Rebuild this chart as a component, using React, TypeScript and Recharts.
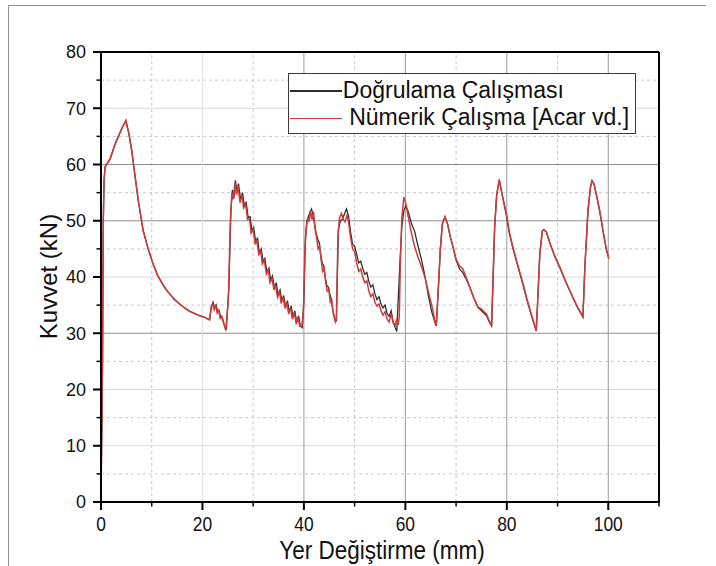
import {
  LineChart,
  Line,
  XAxis,
  YAxis,
  Legend,
  ReferenceLine,
  Label
} from 'recharts';

// [yer değiştirme (mm), kuvvet (kN)]
const ilkTepe: [number, number][] = [
  [0, 0], [0.3, 25], [0.45, 50], [0.6, 57], [0.8, 59.6], [1.8, 61.0], [2.8, 63.7],
  [4.1, 66.4], [4.9, 67.8], [5.5, 65.5], [6.05, 62.5], [6.7, 58.0], [7.35, 53.6],
  [8.3, 48.3], [9.3, 45.0], [10.2, 42.5], [11.2, 40.2], [12.5, 38.2], [13.5, 37.0],
  [14.5, 36.0], [15.5, 35.2], [16.5, 34.5], [17.5, 33.9], [18.5, 33.5], [19.5, 33.1],
  [20.5, 32.8], [21.4, 32.4]
];

const dogrulamaDevam: [number, number][] = [
  [21.8, 34.8], [22.1, 35.5], [22.4, 34.4], [22.7, 35.0], [23.0, 33.8], [23.3, 34.0],
  [23.6, 32.8], [23.9, 32.9], [24.2, 31.8], [24.7, 30.6],
  [25.2, 38.0], [25.6, 51.5], [25.9, 55.5], [26.2, 54.0], [26.5, 57.2], [26.8, 55.0],
  [27.1, 56.6], [27.5, 53.8], [27.9, 55.0], [28.25, 52.6], [28.6, 53.4], [29.0, 50.6],
  [29.4, 50.7], [29.75, 48.2], [30.1, 48.8], [30.5, 46.2], [30.85, 47.0], [31.2, 44.3],
  [31.6, 45.0], [31.95, 42.7], [32.3, 43.3], [32.7, 40.9], [33.1, 41.6], [33.45, 39.4],
  [33.8, 40.2], [34.2, 38.0], [34.55, 39.0], [34.9, 36.8], [35.3, 37.7], [35.65, 35.7],
  [36.0, 36.7], [36.4, 34.7], [36.75, 35.8], [37.1, 33.8], [37.5, 34.9], [37.85, 32.8],
  [38.2, 34.0], [38.6, 31.9], [38.95, 33.1], [39.3, 31.3], [39.7, 31.0],
  [40.0, 36.0], [40.3, 47.0], [40.6, 50.0], [40.9, 50.8], [41.2, 51.5], [41.5, 52.1],
  [41.8, 51.0], [42.1, 49.5], [42.4, 47.8], [42.7, 46.8], [43.0, 46.2], [43.3, 44.0],
  [43.6, 42.5], [43.9, 42.0], [44.2, 40.0], [44.5, 38.5], [44.8, 38.2], [45.1, 37.0],
  [45.4, 36.0], [45.7, 34.0], [46.2, 32.2],
  [46.4, 32.2], [46.8, 48.5], [47.2, 50.0], [47.6, 50.3], [48.0, 51.2], [48.4, 52.1],
  [48.8, 50.8], [49.2, 48.0], [49.6, 45.8], [50.0, 45.5], [50.4, 44.0], [50.8, 42.5],
  [51.2, 42.8], [51.6, 41.5], [52.0, 40.5], [52.4, 40.8], [52.8, 39.2], [53.2, 38.2],
  [53.6, 38.6], [54.0, 37.0], [54.4, 36.0], [54.8, 36.5], [55.2, 35.2], [55.6, 34.5],
  [56.0, 35.0], [56.4, 33.5], [56.8, 33.0], [57.2, 34.0], [57.6, 32.0], [58.0, 31.0],
  [58.3, 30.3],
  [58.9, 42.0], [59.3, 49.0], [59.7, 51.8], [60.1, 52.7], [60.6, 51.5], [61.2, 49.5],
  [61.8, 48.2], [62.5, 45.5], [63.2, 43.0], [63.9, 40.0], [64.5, 36.8], [65.2, 33.8],
  [65.8, 32.0], [66.1, 31.3],
  [66.5, 38.0], [66.9, 45.0], [67.3, 49.5], [67.8, 50.7], [68.3, 49.5], [68.9, 47.0],
  [69.4, 45.3], [70.0, 43.0], [70.7, 41.4], [71.3, 40.8], [72.0, 39.6], [72.7, 38.2],
  [73.5, 36.2], [74.3, 34.6], [75.0, 34.0], [76.0, 33.1], [76.5, 32.1], [77.0, 31.3],
  [77.3, 40.0], [77.6, 48.9], [78.0, 54.5], [78.5, 57.3], [79.0, 55.0], [79.9, 51.0],
  [80.5, 47.8], [81.2, 45.1], [82.2, 41.8], [83.2, 38.6], [84.0, 35.8], [84.9, 33.0],
  [85.8, 30.4],
  [86.1, 36.0], [86.5, 44.1], [87.0, 48.2], [87.3, 48.4], [87.8, 48.0], [88.5, 46.0],
  [89.4, 43.8], [90.4, 41.8], [91.6, 39.2], [93.0, 36.4], [94.0, 34.5], [95.0, 32.9],
  [95.4, 42.0], [96.0, 51.8], [96.5, 56.0], [96.8, 57.1], [97.2, 56.5], [97.8, 54.0],
  [98.3, 51.8], [99.0, 48.0], [99.6, 45.0], [100.1, 43.3]
];

const numerikDevam: [number, number][] = [
  [21.7, 34.6], [22.0, 35.3], [22.3, 34.2], [22.6, 35.1], [22.9, 33.6], [23.2, 34.1],
  [23.5, 32.6], [23.8, 33.0], [24.1, 32.0], [24.6, 30.5],
  [25.1, 36.0], [25.5, 50.0], [25.8, 55.0], [26.1, 53.8], [26.4, 56.8], [26.7, 54.6],
  [27.0, 56.2], [27.4, 53.2], [27.8, 54.6], [28.1, 52.3], [28.5, 53.0], [28.9, 50.2],
  [29.3, 50.3], [29.6, 47.8], [30.0, 48.4], [30.4, 45.8], [30.7, 46.6], [31.1, 44.0],
  [31.5, 44.6], [31.8, 42.3], [32.2, 42.9], [32.6, 40.5], [33.0, 41.2], [33.3, 39.0],
  [33.7, 39.8], [34.1, 37.7], [34.4, 38.6], [34.8, 36.4], [35.2, 37.4], [35.5, 35.3],
  [35.9, 36.4], [36.3, 34.4], [36.6, 35.5], [37.0, 33.4], [37.4, 34.6], [37.7, 32.5],
  [38.1, 33.7], [38.5, 31.6], [38.8, 32.9], [39.2, 31.2], [39.6, 31.2],
  [39.9, 34.0], [40.2, 45.0], [40.5, 49.0], [40.8, 50.5], [41.0, 49.8], [41.3, 51.8],
  [41.6, 50.2], [41.9, 51.6], [42.2, 48.5], [42.5, 47.0], [42.8, 45.0], [43.1, 45.5],
  [43.4, 43.0], [43.7, 41.0], [44.0, 41.5], [44.3, 39.0], [44.6, 37.5], [44.9, 37.8],
  [45.2, 35.5], [45.5, 35.8], [45.8, 33.5], [46.2, 32.0],
  [46.4, 32.5], [46.7, 47.0], [47.0, 50.5], [47.4, 51.3], [47.8, 50.2], [48.1, 49.8],
  [48.5, 51.0], [48.8, 49.8], [49.2, 47.0], [49.6, 45.0], [50.0, 44.5], [50.4, 42.5],
  [50.8, 41.0], [51.2, 41.4], [51.6, 40.0], [52.0, 39.0], [52.4, 39.3], [52.8, 37.5],
  [53.2, 36.5], [53.6, 37.0], [54.0, 35.5], [54.4, 34.8], [54.8, 35.2], [55.2, 34.0],
  [55.6, 33.2], [56.0, 33.8], [56.4, 32.5], [56.8, 32.0], [57.2, 33.5], [57.6, 31.8],
  [58.0, 31.5], [58.3, 32.6], [58.6, 31.5],
  [58.8, 33.0], [59.0, 42.0], [59.3, 50.5], [59.7, 54.2], [60.1, 53.0], [60.6, 50.5],
  [61.2, 47.8], [61.8, 45.5], [62.5, 43.5], [63.2, 41.8], [63.9, 39.8], [64.5, 37.5],
  [65.2, 35.0], [65.8, 32.3], [66.1, 31.4],
  [66.5, 38.0], [66.9, 45.0], [67.3, 49.5], [67.8, 50.7], [68.3, 49.5], [68.9, 47.0],
  [69.4, 45.3], [70.0, 43.2], [70.7, 41.9], [71.3, 41.5], [72.0, 39.9], [72.7, 38.2],
  [73.5, 36.3], [74.3, 34.7], [75.0, 34.3], [76.0, 33.4], [76.5, 32.3], [77.0, 31.4],
  [77.3, 40.0], [77.6, 48.9], [78.0, 54.5], [78.5, 57.3], [79.0, 55.0], [79.9, 51.3],
  [80.5, 48.0], [81.2, 45.3], [82.2, 42.0], [83.2, 38.8], [84.0, 36.0], [84.9, 33.2],
  [85.8, 30.5],
  [86.1, 36.0], [86.5, 44.1], [87.0, 48.2], [87.3, 48.4], [87.8, 48.0], [88.5, 46.0],
  [89.4, 43.8], [90.4, 41.8], [91.6, 39.2], [93.0, 36.4], [94.0, 34.5], [95.0, 32.9],
  [95.4, 42.0], [96.0, 51.8], [96.5, 56.0], [96.8, 57.1], [97.2, 56.5], [97.8, 54.0],
  [98.3, 51.8], [99.0, 48.0], [99.6, 45.0], [100.1, 43.3]
];

const xTicks = [0, 10, 20, 30, 40, 50, 60, 70, 80, 90, 100, 110];
const yTicks = [0, 5, 10, 15, 20, 25, 30, 35, 40, 45, 50, 55, 60, 65, 70, 75, 80];

const seriesNames = ['Doğrulama Çalışması', ' Nümerik Çalışma [Acar vd.]'];

const toRows = (pts: [number, number][]) => pts.map(([x, y]) => ({ x, y }));
const dogrulamaData = toRows([...ilkTepe, ...dogrulamaDevam]);
const numerikData = toRows([...ilkTepe, ...numerikDevam]);

const FONT = '"Liberation Sans", Arial, sans-serif';
// some major grid lines come out darker in the source image
const darkRows = [30, 50, 60];
const darkCols = [40, 60, 80, 100];

const YTick = (props: any) => {
  const { y, payload } = props;
  const v = payload.value;
  const major = v % 10 === 0;
  return (
    <g>
      <line x1={101} x2={major ? 93 : 96.5} y1={y} y2={y} stroke="#000" strokeWidth={major ? 2 : 1.5} />
      {major && (
        <text x={86} y={y} dy={6.4} textAnchor="end" fontSize={18} fill="#111" fontFamily={FONT}>
          {v}
        </text>
      )}
    </g>
  );
};

const XTick = (props: any) => {
  const { x, payload } = props;
  const v = payload.value;
  const major = v % 20 === 0;
  return (
    <g>
      <line x1={x} x2={x} y1={502} y2={major ? 510 : 506.5} stroke="#000" strokeWidth={major ? 2 : 1.5} />
      {major && (
        <text
          transform={`translate(${x},531) scale(0.87,1)`}
          textAnchor="middle"
          fontSize={20}
          fill="#111"
          fontFamily={FONT}
        >
          {v}
        </text>
      )}
    </g>
  );
};

const renderLegend = (props: any) => {
  // keep the series order of the chart, not the alphabetical one
  const items = seriesNames
    .map((n) => (props.payload || []).find((p: any) => p.value === n))
    .filter(Boolean);
  return (
    <div
      style={{
        position: 'relative',
        width: 348,
        height: 61,
        boxSizing: 'border-box',
        border: '1.5px solid #3a3a3a',
        background: '#fff',
        fontFamily: FONT
      }}
    >
      {items.map((entry: any, i: number) => (
        <div key={i}>
          <div
            style={{
              position: 'absolute',
              left: 0.5,
              top: i === 0 ? 16.2 : 43.8,
              width: 52,
              height: 1.5,
              background: entry.color
            }}
          />
          <span
            style={{
              position: 'absolute',
              left: 53.8,
              top: i === 0 ? 4.5 : 31.7,
              fontSize: 23,
              lineHeight: '23px',
              whiteSpace: 'pre',
              color: '#111'
            }}
          >
            {entry.value}
          </span>
        </div>
      ))}
    </div>
  );
};

export default function App() {
  return (
    <div style={{ position: 'absolute', left: 0, top: 0, width: 716, height: 566, background: '#fff' }}>
      <div
        style={{
          position: 'absolute',
          left: 8,
          top: 5,
          width: 697,
          height: 561,
          borderLeft: '1.5px solid #8f8f8f',
          borderTop: '1.5px solid #8f8f8f'
        }}
      />
      <LineChart width={716} height={566} margin={{ top: 52, right: 57, bottom: 0, left: 41 }}>
        <XAxis
          type="number"
          dataKey="x"
          domain={[0, 110]}
          ticks={xTicks}
          interval={0}
          height={64}
          axisLine={{ stroke: '#000', strokeWidth: 2 }}
          tickLine={false}
          tick={<XTick />}
        >
          <Label
            content={() => (
              <text
                transform="translate(382,559) scale(0.9,1)"
                textAnchor="middle"
                fontSize={25}
                fill="#111"
                fontFamily={FONT}
              >
                Yer Değiştirme (mm)
              </text>
            )}
          />
        </XAxis>
        <YAxis
          type="number"
          domain={[0, 80]}
          ticks={yTicks}
          interval={0}
          width={60}
          axisLine={{ stroke: '#000', strokeWidth: 2 }}
          tickLine={false}
          tick={<YTick />}
        >
          <Label
            content={() => (
              <text
                transform="translate(56.5,276.5) rotate(-90)"
                textAnchor="middle"
                fontSize={24}
                fill="#111"
                fontFamily={FONT}
              >
                Kuvvet (kN)
              </text>
            )}
          />
        </YAxis>

        {yTicks.filter((v) => v > 0 && v < 80 && v % 10 !== 0).map((v) => (
          <ReferenceLine key={'hm' + v} y={v} stroke="#c8c8c8" strokeDasharray="3 3" />
        ))}
        {xTicks.filter((v) => v % 20 !== 0 && v < 110).map((v) => (
          <ReferenceLine key={'vm' + v} x={v} stroke="#c8c8c8" strokeDasharray="3 3" />
        ))}
        {yTicks.filter((v) => v > 0 && v < 80 && v % 10 === 0).map((v) => (
          <ReferenceLine key={'h' + v} y={v} stroke={darkRows.includes(v) ? '#8e8e8e' : '#dadada'} />
        ))}
        {xTicks.filter((v) => v > 0 && v % 20 === 0).map((v) => (
          <ReferenceLine key={'v' + v} x={v} stroke={darkCols.includes(v) ? '#9a9a9a' : '#e2e2e2'} />
        ))}

        <Line
          data={dogrulamaData}
          dataKey="y"
          name={seriesNames[0]}
          type="linear"
          stroke="#2e2e2e"
          strokeWidth={1.3}
          dot={false}
          activeDot={false}
          isAnimationActive={false}
        />
        <Line
          data={numerikData}
          dataKey="y"
          name={seriesNames[1]}
          type="linear"
          stroke="#d23a3a"
          strokeWidth={1.5}
          dot={false}
          activeDot={false}
          isAnimationActive={false}
        />

        <ReferenceLine y={80} stroke="#000" strokeWidth={2} />
        <ReferenceLine x={110} stroke="#000" strokeWidth={2} />

        <Legend
          layout="vertical"
          align="center"
          verticalAlign="middle"
          wrapperStyle={{ position: 'absolute', left: 288, top: 73, width: 348, height: 61 }}
          content={renderLegend}
        />
      </LineChart>
    </div>
  );
}
